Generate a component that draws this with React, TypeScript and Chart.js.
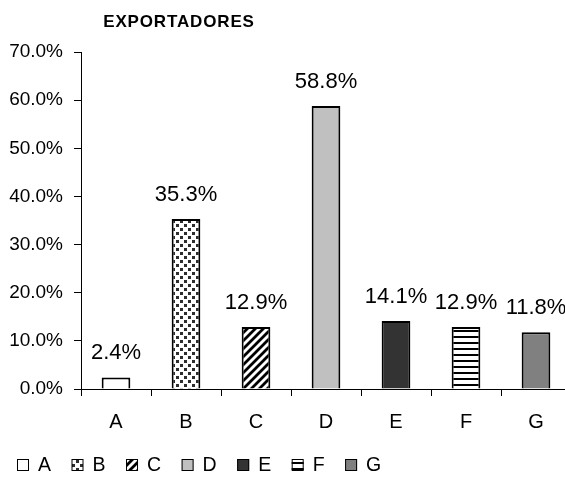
import React, { useEffect, useRef } from "react";
import { Chart, registerables } from "chart.js";

Chart.register(...registerables);

const titleText = "EXPORTADORES";
const categories = ["A", "B", "C", "D", "E", "F", "G"];
const values = [2.4, 35.3, 12.9, 58.8, 14.1, 12.9, 11.8];
const yTickLabels = ["0.0%", "10.0%", "20.0%", "30.0%", "40.0%", "50.0%", "60.0%", "70.0%"];
const valueLabels = ["2.4%", "35.3%", "12.9%", "58.8%", "14.1%", "12.9%", "11.8%"];

const FONT = '"Liberation Sans", Arial, sans-serif';

function makePattern(w: number, h: number, draw: (c: CanvasRenderingContext2D) => void) {
  const cv = document.createElement("canvas");
  cv.width = w;
  cv.height = h;
  const c = cv.getContext("2d")!;
  c.fillStyle = "#ffffff";
  c.fillRect(0, 0, w, h);
  draw(c);
  return c.createPattern(cv, "repeat")!;
}

function buildFills(): (string | CanvasPattern)[] {
  const dots = makePattern(8, 8, (c) => {
    c.fillStyle = "#2e2e2e";
    c.fillRect(0, 0, 3, 3);
    c.fillRect(4, 4, 3, 3);
  });
  const diag = makePattern(8, 8, (c) => {
    c.strokeStyle = "#000000";
    c.lineWidth = 2.8;
    c.beginPath();
    c.moveTo(-1, 9);
    c.lineTo(9, -1);
    c.moveTo(-2, 2);
    c.lineTo(2, -2);
    c.moveTo(6, 10);
    c.lineTo(10, 6);
    c.stroke();
  });
  const horiz = makePattern(4, 6, (c) => {
    c.fillStyle = "#000000";
    c.fillRect(0, 0, 4, 2);
  });
  return ["#ffffff", dots, diag, "#c0c0c0", "#333333", horiz, "#808080"];
}

export default function App() {
  const ref = useRef<HTMLCanvasElement | null>(null);

  useEffect(() => {
    document.body.style.margin = "0";
    document.body.style.overflow = "hidden";
    const canvas = ref.current!;
    const fills = buildFills();

    const titlePlugin = {
      id: "customTitle",
      afterDraw(chart: any) {
        const ctx = chart.ctx as CanvasRenderingContext2D;
        ctx.save();
        ctx.font = `bold 17px ${FONT}`;
        (ctx as any).letterSpacing = "0.85px";
        ctx.fillStyle = "#000";
        ctx.textAlign = "center";
        ctx.textBaseline = "alphabetic";
        ctx.fillText(titleText, chart.chartArea.left + 98, 27);
        ctx.restore();
      },
    };

    const valueLabelPlugin = {
      id: "valueLabels",
      afterDatasetsDraw(chart: any) {
        const ctx = chart.ctx as CanvasRenderingContext2D;
        const meta = chart.getDatasetMeta(0);
        ctx.save();
        ctx.font = `22px ${FONT}`;
        ctx.fillStyle = "#000";
        ctx.textAlign = "center";
        ctx.textBaseline = "alphabetic";
        meta.data.forEach((bar: any, i: number) => {
          ctx.fillText(valueLabels[i], bar.x, bar.y - 18);
        });
        ctx.restore();
      },
    };

    const legendPlugin = {
      id: "patternLegend",
      afterDraw(chart: any) {
        const ctx = chart.ctx as CanvasRenderingContext2D;
        ctx.save();
        ctx.font = `19.5px ${FONT}`;
        ctx.textAlign = "left";
        ctx.textBaseline = "alphabetic";
        let x = 17;
        const baseline = chart.height - 6;
        const box = 12;
        categories.forEach((cat, i) => {
          ctx.fillStyle = fills[i] as any;
          ctx.fillRect(x, baseline - box, box, box);
          ctx.strokeStyle = "#000";
          ctx.lineWidth = 1;
          ctx.strokeRect(x + 0.5, baseline - box + 0.5, box - 1, box - 1);
          ctx.fillStyle = "#000";
          ctx.fillText(cat, x + 21, baseline);
          x += 21 + ctx.measureText(cat).width + 20.5;
        });
        ctx.restore();
      },
    };

    const chart = new Chart(canvas, {
      type: "bar",
      data: {
        labels: categories,
        datasets: [
          {
            data: values,
            backgroundColor: fills as any,
            borderColor: "#000000",
            borderWidth: 2,
            barPercentage: 0.41,
            categoryPercentage: 1,
          },
        ],
      },
      options: {
        responsive: false,
        animation: false,
        devicePixelRatio: 1,
        layout: { padding: { top: 52, right: 4, left: 0, bottom: 0 } },
        plugins: {
          legend: { display: false },
          title: { display: false },
          tooltip: { enabled: false },
        },
        scales: {
          x: {
            offset: true,
            grid: {
              offset: true,
              drawOnChartArea: false,
              tickLength: 7,
              color: "#000",
              lineWidth: 1,
            },
            border: { color: "#000", width: 1 },
            ticks: {
              color: "#000",
              font: { family: FONT, size: 20 },
              padding: 14,
            },
            afterFit: (s: any) => {
              s.height = 88;
            },
          },
          y: {
            min: 0,
            max: 70,
            ticks: {
              stepSize: 10,
              color: "#000",
              font: { family: FONT, size: 19 },
              padding: 11,
              callback: (_v: any, i: number) => yTickLabels[i],
            },
            grid: {
              drawOnChartArea: false,
              tickLength: 7,
              color: "#000",
              lineWidth: 1,
            },
            border: { color: "#000", width: 1 },
            afterFit: (s: any) => {
              s.width = 81;
            },
          },
        },
      },
      plugins: [titlePlugin, valueLabelPlugin, legendPlugin],
    });

    return () => chart.destroy();
  }, []);

  return (
    <div style={{ width: 565, height: 477, overflow: "hidden", background: "#fff" }}>
      <canvas ref={ref} width={575} height={477} style={{ display: "block" }} />
    </div>
  );
}
